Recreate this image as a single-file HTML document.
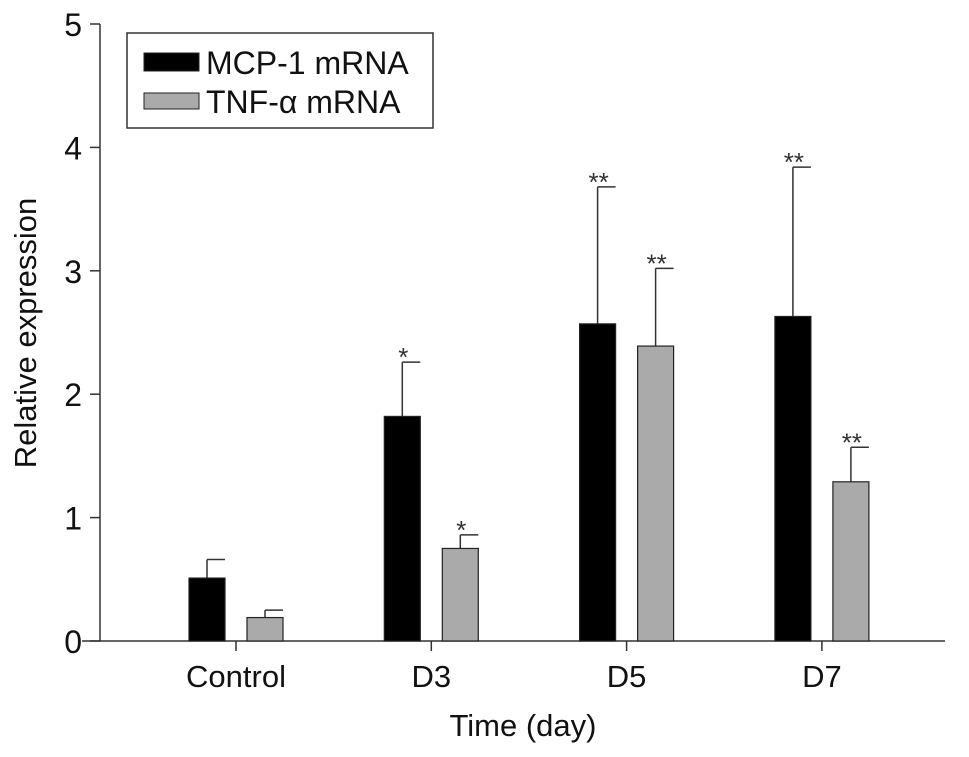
<!DOCTYPE html>
<html><head><meta charset="utf-8"><style>
body{margin:0;background:#fff;}
svg{display:block;font-family:"Liberation Sans",Arial,sans-serif;}
</style></head><body>
<svg id="chart" width="969" height="757"></svg>
<script>
const categories=["Control","D3","D5","D7"];
const mcpValues=[0.51,1.82,2.57,2.63];
const mcpErrors=[0.15,0.44,1.11,1.21];
const tnfValues=[0.19,0.75,2.39,1.29];
const tnfErrors=[0.06,0.11,0.63,0.28];
const mcpStars=["","*","**","**"];
const tnfStars=["","*","**","**"];
const yTicks=[0,1,2,3,4,5];

const NS="http://www.w3.org/2000/svg";
const svg=document.getElementById('chart');
function mk(t,a,p){const e=document.createElementNS(NS,t);for(const k in a)e.setAttribute(k,a[k]);(p||svg).appendChild(e);return e;}
const y0=641,yScale=123.4,xAxisL=100,xAxisR=945;
const y=v=>y0-v*yScale;
const xc=i=>236+i*195.3;
const bw=36;

let e=mk('line',{x1:xAxisL,y1:y(0),x2:xAxisL,y2:y(5),stroke:'#333','stroke-width':1.5});


e=mk('line',{x1:xAxisL-18,y1:y0,x2:xAxisR,y2:y0,stroke:'#333','stroke-width':1.5});



yTicks.forEach(t=>{
  e=mk('line',{x1:xAxisL-10,y1:y(t),x2:xAxisL,y2:y(t),stroke:'#333','stroke-width':1.5});
  
  
  e=mk('text',{x:xAxisL-18,y:y(t)+12,'text-anchor':'end','font-size':32,fill:'#111'});
  e.textContent=t;
  
  
});

function bar(cx,v,err,fill,star,name){
  const top=y(v),et=y(v+err);
  let l=mk('line',{x1:cx,y1:top,x2:cx,y2:et,stroke:'#333','stroke-width':1.5});
  
  
  l=mk('line',{x1:cx,y1:et,x2:cx+bw/2,y2:et,stroke:'#333','stroke-width':1.5});
  
  
  const r=mk('rect',{x:cx-bw/2,y:top,width:bw,height:y0-top,fill:fill,stroke:'#222','stroke-width':1.2});
  
  
  if(star){
    const s=mk('text',{x:cx+1,y:et+4,'text-anchor':'middle','font-size':26,fill:'#333'});
    s.textContent=star;
    
    
  }
}
categories.forEach((c,i)=>{
  const cx=xc(i);
  bar(cx-29,mcpValues[i],mcpErrors[i],'#000',mcpStars[i],'mcp-'+c.toLowerCase());
  bar(cx+29,tnfValues[i],tnfErrors[i],'#aaa',tnfStars[i],'tnf-'+c.toLowerCase());
  e=mk('line',{x1:cx,y1:y0,x2:cx,y2:y0+10,stroke:'#333','stroke-width':1.5});
  
  
  e=mk('text',{x:cx,y:687,'text-anchor':'middle','font-size':31,fill:'#111'});
  e.textContent=c;
  
  
});

e=mk('text',{x:523,y:736,'text-anchor':'middle','font-size':31,fill:'#111'});
e.textContent='Time (day)';


e=mk('text',{x:0,y:0,'text-anchor':'middle','font-size':31,fill:'#111',transform:'translate(36,333) rotate(-90)'});
e.textContent='Relative expression';



const lg=mk('g',{});


mk('rect',{x:127,y:33,width:306,height:95,fill:'#fff',stroke:'#333','stroke-width':1.5},lg);
e=mk('rect',{x:144,y:53,width:55,height:18,fill:'#000',stroke:'#222'},lg);


e=mk('rect',{x:144,y:93,width:55,height:16,fill:'#aaa',stroke:'#222'},lg);


e=mk('text',{x:206,y:74,'font-size':32,fill:'#111'},lg);
e.textContent='MCP-1 mRNA';


e=mk('text',{x:206,y:113,'font-size':32,fill:'#111'},lg);
e.textContent='TNF-α mRNA';


</script>
</body></html>
